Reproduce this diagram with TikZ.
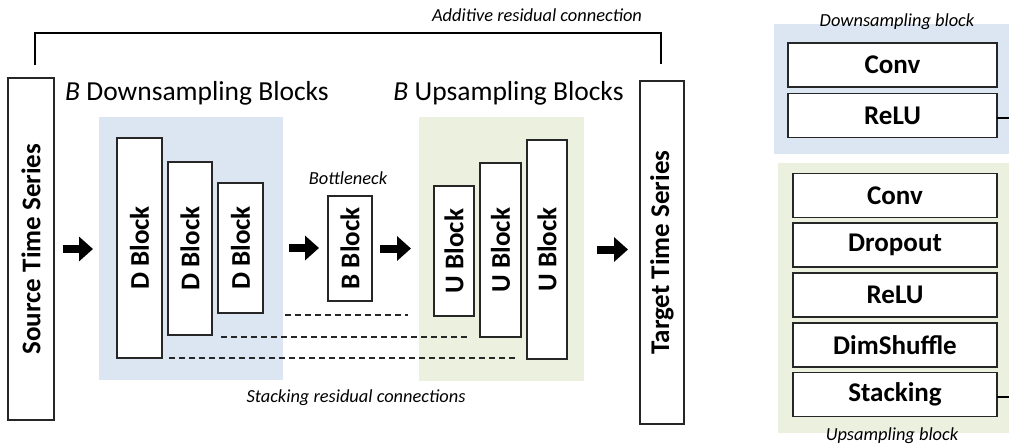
\documentclass[tikz,border=0pt]{standalone}
\usepackage{fontspec}
\setmainfont{Carlito}
\usetikzlibrary{arrows.meta,calc}
\definecolor{downbg}{HTML}{DCE6F2}
\definecolor{upbg}{HTML}{EBF1DE}
\definecolor{edge}{HTML}{262626}
\newcommand{\bigbold}{\fontsize{27}{30}\selectfont\bfseries}
\newcommand{\headfont}{\fontsize{27.5}{30}\selectfont}
\newcommand{\notefont}{\fontsize{18.4}{20}\selectfont\itshape}
\tikzset{
  blk/.style={draw=edge, line width=1.4pt, fill=white, inner sep=0pt, outer sep=0pt,
    font=\bigbold, text=black},
  layer/.style={blk, minimum width=#1, minimum height=44pt},
  note/.style={font=\notefont, text=black, inner sep=0pt},
  head/.style={font=\headfont, text=black, inner sep=0pt},
  fat/.style={line width=8pt, -{Triangle[length=14pt,width=24pt]}},
  stackline/.style={line width=1.2pt, draw=edge, dash pattern=on 6pt off 4pt},
  residual/.style={line width=2.6pt, draw=black},
  stub/.style={line width=1.6pt, draw=black}
}
\begin{document}
\begin{tikzpicture}[x=1pt,y=-1pt]
\useasboundingbox (0,0) rectangle (1009,445);

% background panels
\fill[downbg] (99,117) rectangle (283,380);
\fill[upbg] (419,117) rectangle (584,381);
\fill[downbg] (774,24) rectangle (1009,154);
\fill[upbg] (778,163) rectangle (1009,433);

% input and output series
\node[blk, minimum width=46pt, minimum height=342pt] (src) at (31,249) {\rotatebox{90}{Source Time Series}};
\node[blk, minimum width=44pt, minimum height=343pt] (tgt) at (662,252.5) {\rotatebox{90}{Target Time Series}};

% downsampling stack
\node[blk, minimum width=45pt, minimum height=220pt] (d1) at (139.5,248) {\rotatebox{90}{D Block}};
\node[blk, minimum width=44pt, minimum height=173pt] (d2) at (190,248.5) {\rotatebox{90}{D Block}};
\node[blk, minimum width=45pt, minimum height=130pt] (d3) at (240.5,248) {\rotatebox{90}{D Block}};

% bottleneck
\node[blk, minimum width=44pt, minimum height=105pt] (bb) at (350,248.5) {\rotatebox{90}{B Block}};
\node[note] (bneck) at (348,178) {Bottleneck};

% upsampling stack
\node[blk, minimum width=40pt, minimum height=130pt] (u1) at (454,251) {\rotatebox{90}{U Block}};
\node[blk, minimum width=41pt, minimum height=174pt] (u2) at (500.5,250) {\rotatebox{90}{U Block}};
\node[blk, minimum width=40pt, minimum height=219pt] (u3) at (547,249.5) {\rotatebox{90}{U Block}};

% headings
\node[head] (dhead) at (197,93) {\textit{B} Downsampling Blocks};
\node[head] (uhead) at (508.5,93) {\textit{B} Upsampling Blocks};

% data flow
\draw[fat, shorten <=9pt, shorten >=24pt] (src.east) -- (src.east -| d1.west);
\draw[fat, shorten <=26pt, shorten >=9pt] (d3.east) -- (d3.east -| bb.west);
\draw[fat, shorten <=8pt, shorten >=23pt] (bb.east) -- (bb.east -| u1.west);
\draw[fat, shorten <=30pt, shorten >=12pt] (u3.east) -- (u3.east -| tgt.west);

% stacking residual connections
\draw[stackline] ($(d3.south east)+(22,2)$) -- ($(u1.south west)+(-26,-1)$);
\draw[stackline] ($(d2.south east)+(9,2)$) -- ($(u2.south west)+(-10,0)$);
\draw[stackline] ($(d1.south east)+(7,0)$) -- ($(u3.south west)+(-9,-1)$);
\node[note] (stacknote) at (356,398) {Stacking residual connections};

% additive residual connection
\coordinate (addL) at (35,65);
\coordinate (addR) at (661,64);
\coordinate (addtop) at (0,33);
\draw[residual] (addL) -- (addL |- addtop) -| (addR);
\node[note] (addnote) at (537,15) {Additive residual connection};

% downsampling block detail
\node[note] (dtitle) at (897,22) {Downsampling block};
\node[layer=209pt] (dconv) at (892.5,65) {Conv};
\node[layer=209pt] (drelu) at (892.5,115.5) {ReLU};
\coordinate (dout) at (1012,118);
\draw[stub] (drelu.east |- dout) -- (dout);

% upsampling block detail
\node[layer=204pt] (uconv) at (895,195.5) {Conv};
\node[layer=204pt] (udrop) at (895,245) {Dropout};
\node[layer=204pt] (urelu) at (895,295) {ReLU};
\node[layer=204pt] (ushuf) at (895,345) {DimShuffle};
\node[layer=204pt] (ustack) at (895,394.5) {Stacking};
\coordinate (uout) at (1012,397);
\draw[stub] (ustack.east |- uout) -- (uout);
\node[note] (utitle) at (892,436) {Upsampling block};
\end{tikzpicture}
\end{document}
